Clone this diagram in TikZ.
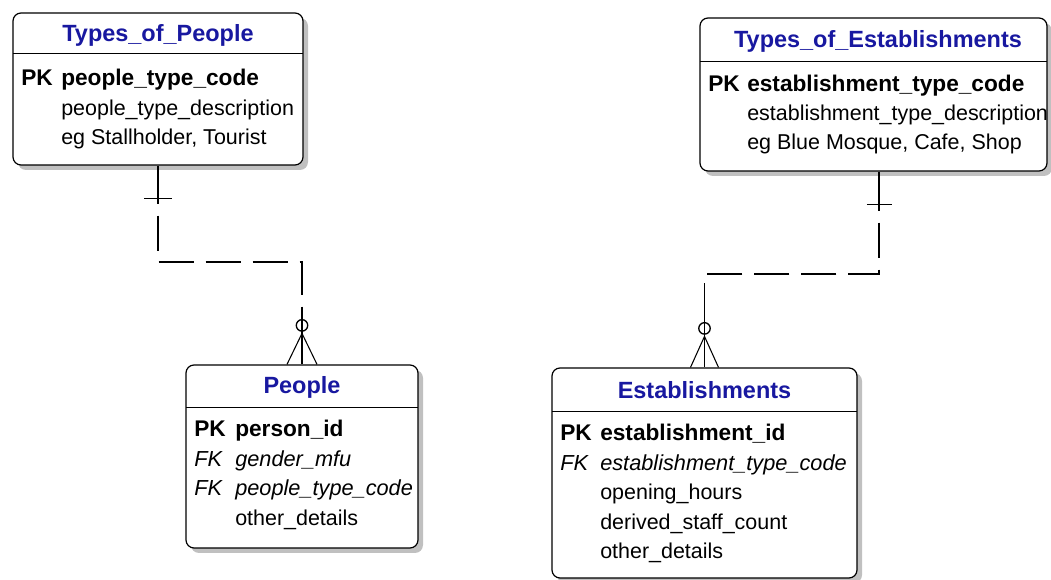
\documentclass[tikz,border=0pt]{standalone}
\usepackage{fontspec}
\setmainfont{Liberation Sans}
\usetikzlibrary{shadows}
\definecolor{titleblue}{RGB}{24,24,160}
\definecolor{shadowgray}{RGB}{192,192,192}

\begin{document}
\begin{tikzpicture}[x=0.75pt,y=-0.75pt,
  entity/.style={draw=black, line width=0.9pt, fill=white, rounded corners=6pt,
    inner sep=0pt,
    drop shadow={shadow xshift=3.75pt, shadow yshift=-3.75pt, fill=shadowgray, opacity=1}},
  titletext/.style={font=\fontsize{17.6pt}{20pt}\selectfont\bfseries, text=titleblue,
    anchor=base, inner sep=0pt},
  fieldtext/.style={font=\fontsize{16.1pt}{19pt}\selectfont, anchor=base west, inner sep=0pt},
  pktext/.style={fieldtext, font=\fontsize{17pt}{19pt}\selectfont\bfseries},
  fktext/.style={fieldtext, font=\fontsize{16.3pt}{19pt}\selectfont\itshape},
  sepline/.style={line width=0.9pt},
  reldash/.style={line width=1pt, dash pattern=on 26.25pt off 9pt, dash phase=26.25pt},
  endmark/.style={line width=1pt},
  crowfoot/.style={line width=0.8pt},
]
\useasboundingbox (0,0) rectangle (1051,580);

% ---------- entities ----------
\node[entity, minimum width=217.5pt, minimum height=114pt] (typesPeople) at (158,89) {};
\node[entity, minimum width=260.25pt, minimum height=114.75pt] (typesEst) at (873.5,94.5) {};
\node[entity, minimum width=174pt, minimum height=137.25pt] (people) at (302,456.5) {};
\node[entity, minimum width=228.75pt, minimum height=157.5pt] (est) at (704.5,473) {};

% header separators
\draw[sepline] (13,53.3) -- (303,53.3);
\draw[sepline] (700,61.7) -- (1047,61.7);
\draw[sepline] (186,407.3) -- (418,407.3);
\draw[sepline] (552,411.7) -- (857,411.7);

% ---------- Types_of_People ----------
\node[titletext] (tpTitle) at (158,42) {Types\_of\_People};
\node[pktext] (tpK1) at (21,86) {PK};
\node[pktext] (tpF1) at (61,86) {people\_type\_code};
\node[fieldtext] (tpF2) at (61,115.5) {people\_type\_description};
\node[fieldtext] (tpF3) at (61,145) {eg Stallholder, Tourist};

% ---------- Types_of_Establishments ----------
\node[titletext] (teTitle) at (878,48) {Types\_of\_Establishments};
\node[pktext] (teK1) at (708,92) {PK};
\node[pktext] (teF1) at (747,92) {establishment\_type\_code};
\node[fieldtext] (teF2) at (747,121) {establishment\_type\_description};
\node[fieldtext] (teF3) at (747,150) {eg Blue Mosque, Cafe, Shop};

% ---------- People ----------
\node[titletext] (pTitle) at (302,394) {People};
\node[pktext] (pK1) at (194,437) {PK};
\node[pktext] (pF1) at (235,437) {person\_id};
\node[fktext] (pK2) at (194,466.5) {FK};
\node[fktext] (pF2) at (235,466.5) {gender\_mfu};
\node[fktext] (pK3) at (194,496) {FK};
\node[fktext] (pF3) at (235,496) {people\_type\_code};
\node[fieldtext] (pF4) at (235,525.5) {other\_details};

% ---------- Establishments ----------
\node[titletext] (eTitle) at (704.5,399) {Establishments};
\node[pktext] (eK1) at (560,441) {PK};
\node[pktext] (eF1) at (600,441) {establishment\_id};
\node[fktext] (eK2) at (560,470.5) {FK};
\node[fktext] (eF2) at (600,470.5) {establishment\_type\_code};
\node[fieldtext] (eF3) at (600,500) {opening\_hours};
\node[fieldtext] (eF4) at (600,529.5) {derived\_staff\_count};
\node[fieldtext] (eF5) at (600,559) {other\_details};

% ---------- relationship: Types_of_People -> People ----------
\coordinate (lBend) at (0,262);
\draw[reldash] ([yshift=-28.5pt]typesPeople.south) -- (typesPeople.south |- lBend)
  -- (people.north |- lBend) -- (people.north);
\draw[endmark] (typesPeople.south) -- ++(0,38);
\draw[endmark] ([shift={(-14,33)}]typesPeople.south) -- ++(28,0);
\draw[endmark] (people.north) -- ++(0,-55);
\draw[endmark] ([shift={(0,-39)}]people.north) circle[radius=4.3pt];
\draw[crowfoot] ([shift={(-15,0)}]people.north) -- ([shift={(0,-31)}]people.north)
  -- ([shift={(15,0)}]people.north);

% ---------- relationship: Types_of_Establishments -> Establishments ----------
\coordinate (rTop) at ([xshift=4.1pt]typesEst.south);
\coordinate (rBend) at (0,274);
\draw[reldash] ([yshift=-29.25pt]rTop) -- (rTop |- rBend)
  -- (est.north |- rBend) -- (est.north);
\draw[endmark] (rTop) -- ++(0,39);
\draw[endmark] ([shift={(-12,33)}]rTop) -- ++(25,0);
\draw[endmark] (est.north) -- ++(0,-50);
\draw[endmark] ([shift={(0,-39)}]est.north) circle[radius=4.3pt];
\draw[crowfoot] ([shift={(-14,0)}]est.north) -- ([shift={(0,-31)}]est.north)
  -- ([shift={(14,0)}]est.north);
\end{tikzpicture}
\end{document}
